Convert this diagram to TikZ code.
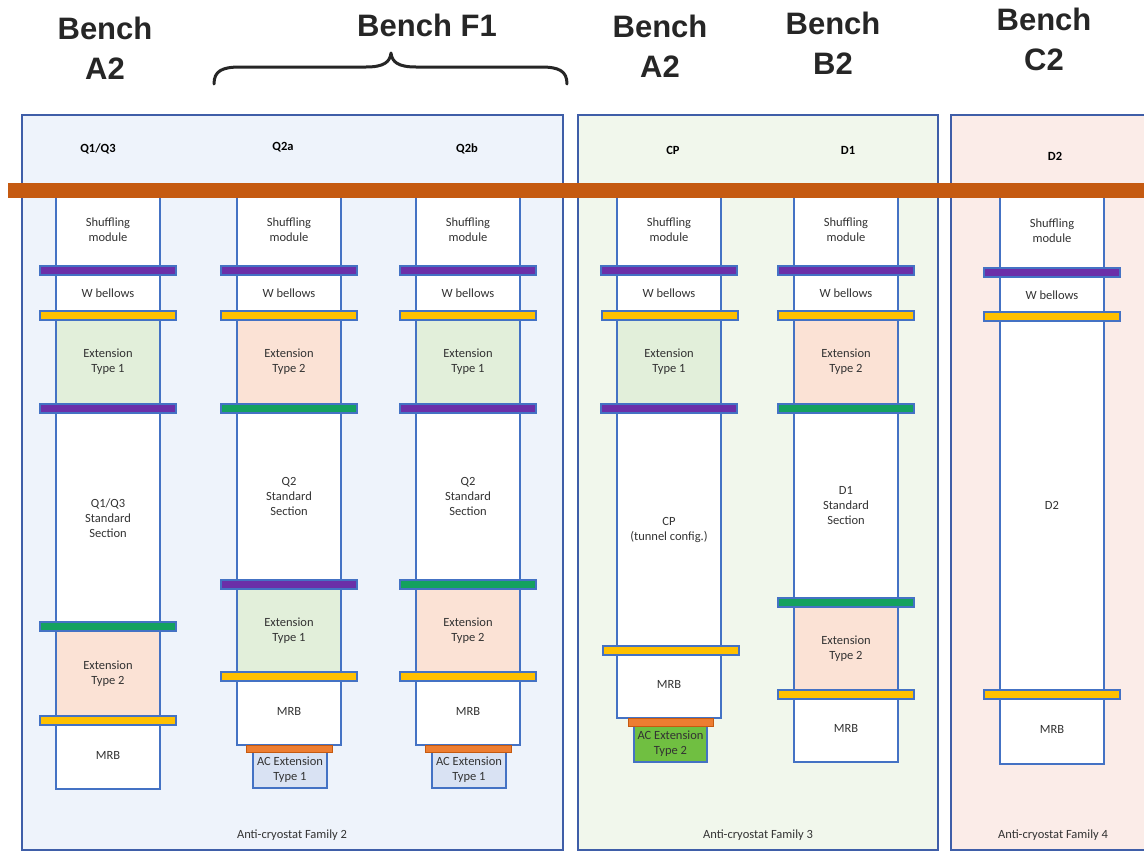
\documentclass[tikz,border=0pt]{standalone}
\usepackage{fontspec}
\setmainfont{Carlito}
\newfontfamily\benchfont{Liberation Sans}
\definecolor{fam2bg}{HTML}{EEF3FB}
\definecolor{fam3bg}{HTML}{F1F7EC}
\definecolor{fam4bg}{HTML}{FBECE8}
\definecolor{framecol}{HTML}{3F5EA8}
\definecolor{tubeblue}{HTML}{4472C4}
\definecolor{orangebar}{HTML}{C55A11}
\definecolor{flpurple}{HTML}{6B2FA8}
\definecolor{flgreen}{HTML}{14A15F}
\definecolor{flyellow}{HTML}{FFC000}
\definecolor{ext1}{HTML}{E2EFDA}
\definecolor{ext2}{HTML}{FBE2D5}
\definecolor{acorange}{HTML}{ED7D31}
\definecolor{ac1}{HTML}{D9E2F3}
\definecolor{ac2}{HTML}{70BF41}
\definecolor{txt}{HTML}{333333}
\definecolor{benchtxt}{HTML}{262626}
\tikzset{
  sect/.style={draw=tubeblue, line width=2.6pt, fill=white, anchor=north west, inner sep=0pt, outer sep=0pt,
    minimum width=104pt, align=center, text=txt, font=\fontsize{12.5}{15}\selectfont},
  flange/.style={draw=tubeblue, line width=1.6pt, anchor=north west, inner sep=0pt, outer sep=0pt,
    minimum width=136pt, minimum height=9pt},
  acflange/.style={draw=orangebar, line width=0.8pt, fill=acorange, anchor=north west, inner sep=0pt, outer sep=0pt,
    minimum width=86pt, minimum height=7pt},
  acbox/.style={draw=tubeblue, line width=2pt, anchor=north west, inner sep=0pt, outer sep=0pt,
    minimum width=74pt, minimum height=36pt, align=center, text=txt, font=\fontsize{12.5}{15}\selectfont},
  famframe/.style={draw=framecol, line width=2.5pt},
  hdr/.style={font=\fontsize{12.5}{15}\selectfont\bfseries, text=black},
  famlabel/.style={font=\fontsize{12.5}{15}\selectfont, text=txt},
  bench/.style={font=\benchfont\bfseries\fontsize{31}{40}\selectfont, text=benchtxt, align=center},
  braceline/.style={draw=benchtxt, line width=3pt, line cap=round, line join=round}
}
\begin{document}
\begin{tikzpicture}[x=1pt,y=-1pt]
\useasboundingbox (0,0) rectangle (1144,852);
\fill[white] (0,0) rectangle (1144,852);

% family frames
\draw[famframe, fill=fam2bg] (22,115) rectangle (563,850);
\draw[famframe, fill=fam3bg] (578,115) rectangle (938,850);
\draw[famframe, fill=fam4bg] (951,115) rectangle (1152,850);

% bench labels
\node[bench] (benchA2a) at (105,48) {Bench\\A2};
\node[bench] (benchF1) at (427,25) {Bench F1};
\node[bench] (benchA2b) at (660,46) {Bench\\A2};
\node[bench] (benchB2) at (833,43) {Bench\\B2};
\node[bench] (benchC2) at (1044,39) {Bench\\C2};
\draw[braceline] (214,84) .. controls (214,71) and (222,67) .. (240,67) -- (366,67)
  .. controls (384,67) and (390,62) .. (391,53) .. controls (392,62) and (398,67) .. (416,67)
  -- (541,67) .. controls (559,67) and (567,71) .. (567,84);

% column headers
\node[hdr] (hQ13) at (98,149) {Q1/Q3};
\node[hdr] (hQ2a) at (283,147) {Q2a};
\node[hdr] (hQ2b) at (467,149) {Q2b};
\node[hdr] (hCP) at (673,150) {CP};
\node[hdr] (hD1) at (848,150) {D1};
\node[hdr] (hD2) at (1055,156) {D2};

% column 1: Q1/Q3
\node[sect, minimum height=83pt] (a1) at (56,188) {Shuffling\\module};
\node[sect, minimum height=44.5pt] (a2) at (56,271) {W bellows};
\node[sect, fill=ext1, minimum height=93pt] (a3) at (56,315.5) {Extension\\Type 1};
\node[sect, minimum height=218.5pt] (a4) at (56,408.5) {Q1/Q3\\Standard\\Section};
\node[sect, fill=ext2, minimum height=94pt] (a5) at (56,627) {Extension\\Type 2};
\node[sect, minimum height=68pt] (a6) at (56,721) {MRB};

% column 2: Q2a
\node[sect, minimum height=83pt] (b1) at (237,188) {Shuffling\\module};
\node[sect, minimum height=44.5pt] (b2) at (237,271) {W bellows};
\node[sect, fill=ext2, minimum height=93pt] (b3) at (237,315.5) {Extension\\Type 2};
\node[sect, minimum height=176.5pt] (b4) at (237,408.5) {Q2\\Standard\\Section};
\node[sect, fill=ext1, minimum height=92pt] (b5) at (237,585) {Extension\\Type 1};
\node[sect, minimum height=68pt] (b6) at (237,677) {MRB};
\node[acbox, fill=ac1] (b7) at (253,752) {AC Extension\\Type 1};

% column 3: Q2b
\node[sect, minimum height=83pt] (c1) at (416,188) {Shuffling\\module};
\node[sect, minimum height=44.5pt] (c2) at (416,271) {W bellows};
\node[sect, fill=ext1, minimum height=93pt] (c3) at (416,315.5) {Extension\\Type 1};
\node[sect, minimum height=176.5pt] (c4) at (416,408.5) {Q2\\Standard\\Section};
\node[sect, fill=ext2, minimum height=92pt] (c5) at (416,585) {Extension\\Type 2};
\node[sect, minimum height=68pt] (c6) at (416,677) {MRB};
\node[acbox, fill=ac1] (c7) at (432,752) {AC Extension\\Type 1};

% column 4: CP
\node[sect, minimum height=83pt] (d1) at (617,188) {Shuffling\\module};
\node[sect, minimum height=44.5pt] (d2) at (617,271) {W bellows};
\node[sect, fill=ext1, minimum height=93pt] (d3) at (617,315.5) {Extension\\Type 1};
\node[sect, minimum height=242.5pt] (d4) at (617,408.5) {CP\\(tunnel config.)};
\node[sect, minimum height=67pt] (d5) at (617,651) {MRB};
\node[acbox, fill=ac2, minimum width=73pt] (d6) at (634,726) {AC Extension\\Type 2};

% column 5: D1
\node[sect, minimum height=83pt] (e1) at (794,188) {Shuffling\\module};
\node[sect, minimum height=44.5pt] (e2) at (794,271) {W bellows};
\node[sect, fill=ext2, minimum height=93pt] (e3) at (794,315.5) {Extension\\Type 2};
\node[sect, minimum height=194pt] (e4) at (794,408.5) {D1\\Standard\\Section};
\node[sect, fill=ext2, minimum height=92.5pt] (e5) at (794,602.5) {Extension\\Type 2};
\node[sect, minimum height=67pt] (e6) at (794,695) {MRB};

% column 6: D2
\node[sect, minimum height=85pt] (f1) at (1000,188) {Shuffling\\module};
\node[sect, minimum height=43.5pt] (f2) at (1000,273) {W bellows};
\node[sect, minimum height=378.5pt] (f3) at (1000,316.5) {D2};
\node[sect, minimum height=69pt] (f4) at (1000,695) {MRB};

% orange header bar
\fill[orangebar] (8,183) rectangle (1152,198);

% flanges column 1
\node[flange, fill=flpurple] (a1f) at (40,266) {};
\node[flange, fill=flyellow] (a2f) at (40,311) {};
\node[flange, fill=flpurple] (a3f) at (40,404) {};
\node[flange, fill=flgreen] (a4f) at (40,622) {};
\node[flange, fill=flyellow] (a5f) at (40,716) {};
% flanges column 2
\node[flange, fill=flpurple] (b1f) at (221,266) {};
\node[flange, fill=flyellow] (b2f) at (221,311) {};
\node[flange, fill=flgreen] (b3f) at (221,404) {};
\node[flange, fill=flpurple] (b4f) at (221,580) {};
\node[flange, fill=flyellow] (b5f) at (221,672) {};
\node[acflange] (b6f) at (246,745) {};
% flanges column 3
\node[flange, fill=flpurple] (c1f) at (400,266) {};
\node[flange, fill=flyellow] (c2f) at (400,311) {};
\node[flange, fill=flpurple] (c3f) at (400,404) {};
\node[flange, fill=flgreen] (c4f) at (400,580) {};
\node[flange, fill=flyellow] (c5f) at (400,672) {};
\node[acflange] (c6f) at (425,745) {};
% flanges column 4
\node[flange, fill=flpurple] (d1f) at (601,266) {};
\node[flange, fill=flyellow] (d2f) at (602,311) {};
\node[flange, fill=flpurple] (d3f) at (601,404) {};
\node[flange, fill=flyellow] (d4f) at (603,646) {};
\node[acflange, minimum width=85pt, minimum height=8pt] (d5f) at (628,718) {};
% flanges column 5
\node[flange, fill=flpurple] (e1f) at (778,266) {};
\node[flange, fill=flyellow] (e2f) at (778,311) {};
\node[flange, fill=flgreen] (e3f) at (778,404) {};
\node[flange, fill=flgreen] (e4f) at (778,598) {};
\node[flange, fill=flyellow] (e5f) at (778,690) {};
% flanges column 6
\node[flange, fill=flpurple] (f1f) at (984,268) {};
\node[flange, fill=flyellow] (f2f) at (984,312) {};
\node[flange, fill=flyellow] (f3f) at (984,690) {};

% family labels
\node[famlabel] (fam2) at (292,835) {Anti-cryostat Family 2};
\node[famlabel] (fam3) at (758,835) {Anti-cryostat Family 3};
\node[famlabel] (fam4) at (1053,835) {Anti-cryostat Family 4};
\end{tikzpicture}
\end{document}
